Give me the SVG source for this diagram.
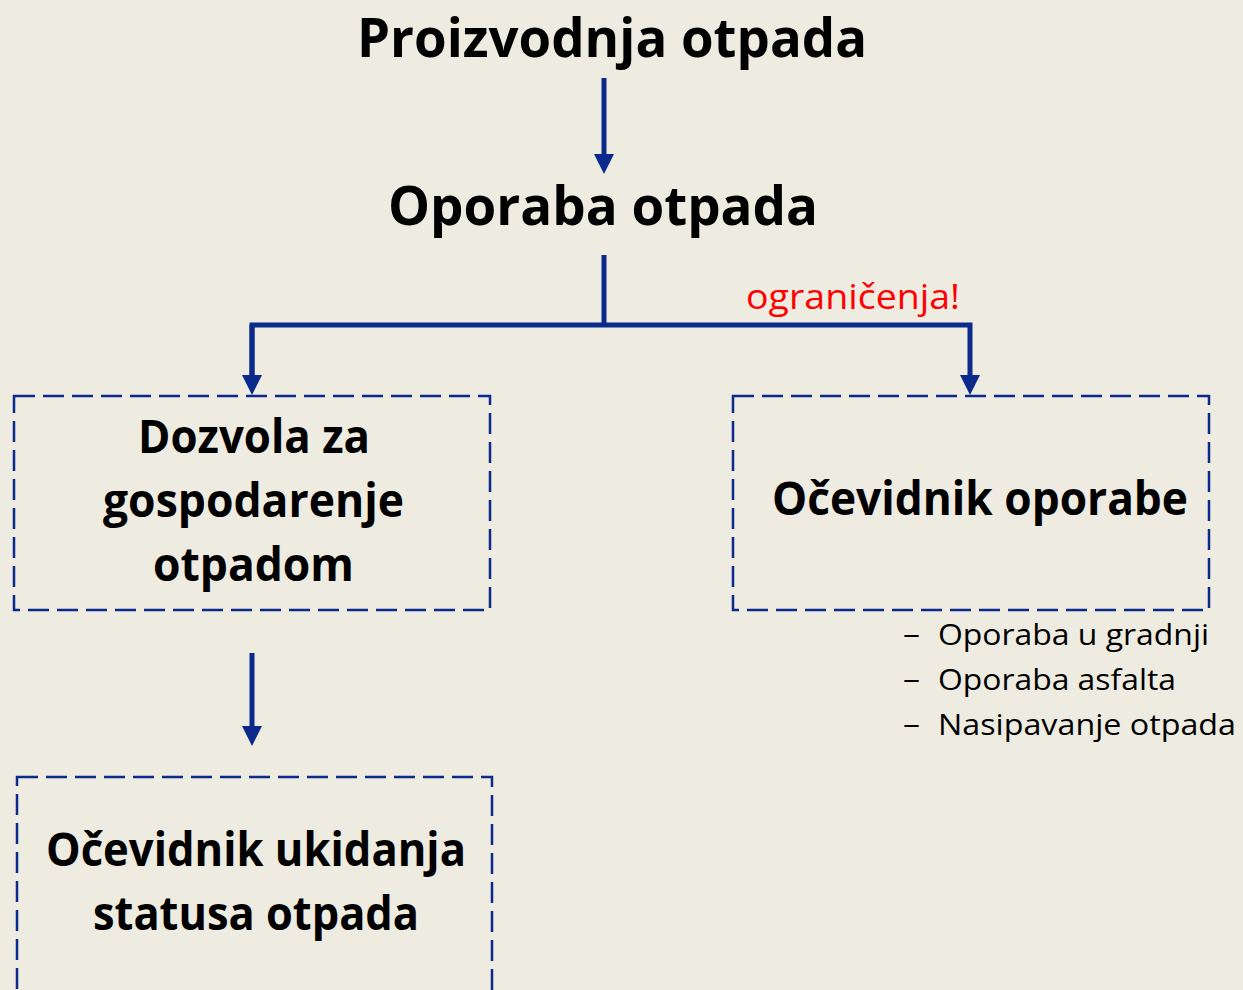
<svg xmlns="http://www.w3.org/2000/svg" width="1243" height="990" viewBox="0 0 1243 990">
<defs>
<style>
.t{font-family:"Open Sans",Lato,"Liberation Sans",sans-serif;font-weight:bold;fill:#000;text-anchor:middle}
.big{font-size:54px}
.mid{font-size:46px}
.li{font-family:"Open Sans",Lato,"Liberation Sans",sans-serif;font-size:29px;fill:#000}
.box{fill:none;stroke:#0B2A8C;stroke-width:2.5;stroke-dasharray:21 8}
.ln{fill:none;stroke:#0B2A8C;stroke-width:5}
.dash{stroke:#000;stroke-width:1.5}
.red{font-family:"Open Sans",Lato,"Liberation Sans",sans-serif;font-size:35px;fill:#FF0000}
</style>
<marker id="ah" markerWidth="4" markerHeight="4" refX="0" refY="2" orient="auto" markerUnits="strokeWidth" viewBox="0 0 4 4">
<path d="M0,0 L4,2 L0,4 z" fill="#0B2A8C"/>
</marker>
</defs>
<rect width="1243" height="990" fill="#EEEBE0"/>
<g id="connectors">
<path class="ln" d="M604,78 V154" marker-end="url(#ah)"/>
<path class="ln" d="M604,255 V325"/>
<path class="ln" d="M252,375 V325 H970 V375" marker-end="url(#ah)"/>
<path class="ln" d="M252,325 V375" marker-end="url(#ah)"/>
<path class="ln" d="M252,653 V726" marker-end="url(#ah)"/>
</g>
<g id="n1"><text class="t big" x="612" y="57" textLength="510" lengthAdjust="spacingAndGlyphs">Proizvodnja otpada</text></g>
<g id="n2"><text class="t big" x="603" y="225" textLength="430" lengthAdjust="spacingAndGlyphs">Oporaba otpada</text></g>
<g id="lbl"><text class="red" x="746" y="309" textLength="214" lengthAdjust="spacingAndGlyphs">ograničenja!</text></g>
<g id="n3">
<rect class="box" x="14" y="396" width="476" height="214"/>
<text class="t mid" x="254" y="453" textLength="232" lengthAdjust="spacingAndGlyphs">Dozvola za</text>
<text class="t mid" x="253.5" y="517" textLength="301" lengthAdjust="spacingAndGlyphs">gospodarenje</text>
<text class="t mid" x="253.5" y="581" textLength="201" lengthAdjust="spacingAndGlyphs">otpadom</text>
</g>
<g id="n4">
<rect class="box" x="733" y="396" width="476" height="214"/>
<text class="t mid" x="980" y="515" textLength="416" lengthAdjust="spacingAndGlyphs">Očevidnik oporabe</text>
<g class="li">
<text x="903" y="644" textLength="17" lengthAdjust="spacingAndGlyphs">–</text><text x="938" y="645" textLength="271" lengthAdjust="spacingAndGlyphs">Oporaba u gradnji</text>
<text x="903" y="689" textLength="17" lengthAdjust="spacingAndGlyphs">–</text><text x="938" y="690" textLength="238" lengthAdjust="spacingAndGlyphs">Oporaba asfalta</text>
<text x="903" y="734" textLength="17" lengthAdjust="spacingAndGlyphs">–</text><text x="938" y="735" textLength="298" lengthAdjust="spacingAndGlyphs">Nasipavanje otpada</text>
</g>
</g>
<g id="n5">
<rect class="box" x="17" y="777" width="475" height="240"/>
<text class="t mid" x="256" y="866" textLength="420" lengthAdjust="spacingAndGlyphs">Očevidnik ukidanja</text>
<text class="t mid" x="256" y="930" textLength="326" lengthAdjust="spacingAndGlyphs">statusa otpada</text>
</g>
</svg>
